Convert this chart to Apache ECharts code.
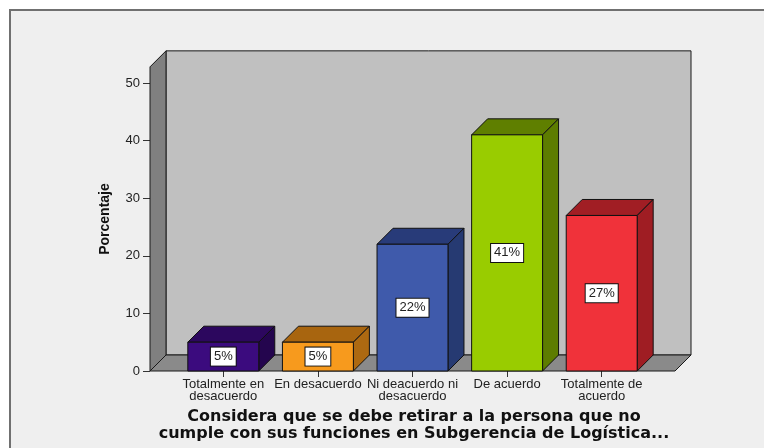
<!DOCTYPE html>
<html>
<head>
<meta charset="utf-8">
<script src="https://cdn.jsdelivr.net/npm/echarts@6/dist/echarts.min.js"></script>
<style>
  html, body { margin: 0; padding: 0; background: #ffffff; }
  #chart { width: 764px; height: 448px; }
</style>
</head>
<body>
<div id="chart"></div>
<script>
// Response categories and their percentages
const categories = [
  'Totalmente en\ndesacuerdo',
  'En desacuerdo',
  'Ni deacuerdo ni\ndesacuerdo',
  'De acuerdo',
  'Totalmente de\nacuerdo'
];
const percentages = [5, 5, 22, 41, 27];
const yTicks = [0, 10, 20, 30, 40, 50];

// Face colours for each bar: front, top, side
const faceColors = [
  ['#3b0b7e', '#2c075e', '#24054e'],
  ['#f79a1d', '#a8650f', '#ad6911'],
  ['#3f5aab', '#283b79', '#263a72'],
  ['#99cc00', '#5f7f00', '#5d7c00'],
  ['#f0323a', '#a11e24', '#9f1d23']
];

const DEPTH = 16;          // 3D offset in pixels
const WALL_TOP = 52.8;     // height of the walls in axis units
const SIDE_PAD = 26;       // floor overhang beyond the category band

const chart = echarts.init(document.getElementById('chart'), null, { renderer: 'canvas' });

function renderWalls(params, api) {
  const cs = params.coordSys;
  const x0 = cs.x - SIDE_PAD;
  const x1 = cs.x + cs.width + SIDE_PAD;
  const yB = api.coord([0, 0])[1];
  const yT = api.coord([0, WALL_TOP])[1];
  const d = DEPTH;
  const stroke = { stroke: '#1a1a1a', lineWidth: 1 };
  return {
    type: 'group',
    children: [
      { type: 'polygon', shape: { points: [[x0 + d, yT - d], [x1 + d, yT - d], [x1 + d, yB - d], [x0 + d, yB - d]] },
        style: Object.assign({ fill: '#c0c0c0' }, stroke) },
      { type: 'polygon', shape: { points: [[x0, yB], [x0, yT], [x0 + d, yT - d], [x0 + d, yB - d]] },
        style: Object.assign({ fill: '#808080' }, stroke) },
      { type: 'polygon', shape: { points: [[x0, yB], [x0 + d, yB - d], [x1 + d, yB - d], [x1, yB]] },
        style: Object.assign({ fill: '#8a8a8a' }, stroke) }
    ]
  };
}

function renderBar(params, api) {
  const idx = params.dataIndex;
  const x = api.value(0);
  const v = api.value(1);
  const base = api.coord([x, 0]);
  const top = api.coord([x, v]);
  const w = api.size([1, 0])[0] * 0.75;
  const L = base[0] - w / 2, R = base[0] + w / 2;
  const T = top[1], B = base[1];
  const d = DEPTH;
  const c = faceColors[idx];
  const stroke = { stroke: '#111111', lineWidth: 1 };
  return {
    type: 'group',
    children: [
      { type: 'polygon', shape: { points: [[L, T], [L + d, T - d], [R + d, T - d], [R, T]] },
        style: Object.assign({ fill: c[1] }, stroke) },
      { type: 'polygon', shape: { points: [[R, T], [R + d, T - d], [R + d, B - d], [R, B]] },
        style: Object.assign({ fill: c[2] }, stroke) },
      { type: 'rect', shape: { x: L, y: T, width: w, height: B - T },
        style: Object.assign({ fill: c[0] }, stroke),
        textContent: {
          style: {
            text: v + '%',
            fill: '#222222',
            font: '13px "Liberation Sans", Arial, sans-serif',
            backgroundColor: '#ffffff',
            borderColor: '#111111',
            borderWidth: 1,
            padding: [3, 3, 2, 3]
          }
        },
        textConfig: { position: 'inside' }
      }
    ]
  };
}

const option = {
  backgroundColor: '#ffffff',
  animation: false,
  graphic: [
    { type: 'rect', z: -10, shape: { x: 10, y: 10, width: 800, height: 500 },
      style: { fill: '#efefef', stroke: '#707070', lineWidth: 2 } },
    { type: 'text', z: 10, left: 414 - 280, top: 408,
      style: {
        text: 'Considera que se debe retirar a la persona que no\ncumple con sus funciones en Subgerencia de Logística...',
        font: 'bold 16px "DejaVu Sans", sans-serif',
        fill: '#111111',
        textAlign: 'center',
        lineHeight: 17,
        width: 560,
        x: 280
      } }
  ],
  grid: { left: 176, width: 473, top: 83, bottom: 77, containLabel: false },
  xAxis: {
    type: 'category',
    data: categories,
    boundaryGap: true,
    axisLine: { show: false },
    axisTick: { show: true, alignWithLabel: true, length: 6, lineStyle: { color: '#333333' } },
    axisLabel: {
      interval: 0,
      margin: 7,
      color: '#222222',
      fontFamily: '"Liberation Sans", Arial, sans-serif',
      fontSize: 13,
      lineHeight: 12
    },
    splitLine: { show: false }
  },
  yAxis: {
    type: 'value',
    min: 0,
    max: 50,
    interval: 10,
    offset: SIDE_PAD,
    name: 'Porcentaje',
    nameLocation: 'middle',
    nameGap: 38,
    nameRotate: 90,
    nameTextStyle: {
      fontFamily: '"Liberation Sans", Arial, sans-serif',
      fontWeight: 'bold',
      fontSize: 14,
      color: '#111111',
      padding: [0, 0, 0, 16]
    },
    axisLine: { show: false },
    axisTick: { show: true, length: 7, lineStyle: { color: '#333333' } },
    axisLabel: {
      margin: 10,
      color: '#222222',
      fontFamily: '"Liberation Sans", Arial, sans-serif',
      fontSize: 13,
      formatter: (val) => (yTicks.indexOf(val) >= 0 ? String(val) : '')
    },
    splitLine: { show: false }
  },
  series: [
    {
      type: 'custom',
      name: 'walls',
      z: 1,
      silent: true,
      clip: false,
      renderItem: renderWalls,
      data: [[0, 0]]
    },
    {
      type: 'custom',
      name: 'Porcentaje',
      z: 2,
      clip: false,
      renderItem: renderBar,
      data: percentages.map((v, i) => [i, v])
    }
  ]
};

chart.setOption(option);
</script>
</body>
</html>
